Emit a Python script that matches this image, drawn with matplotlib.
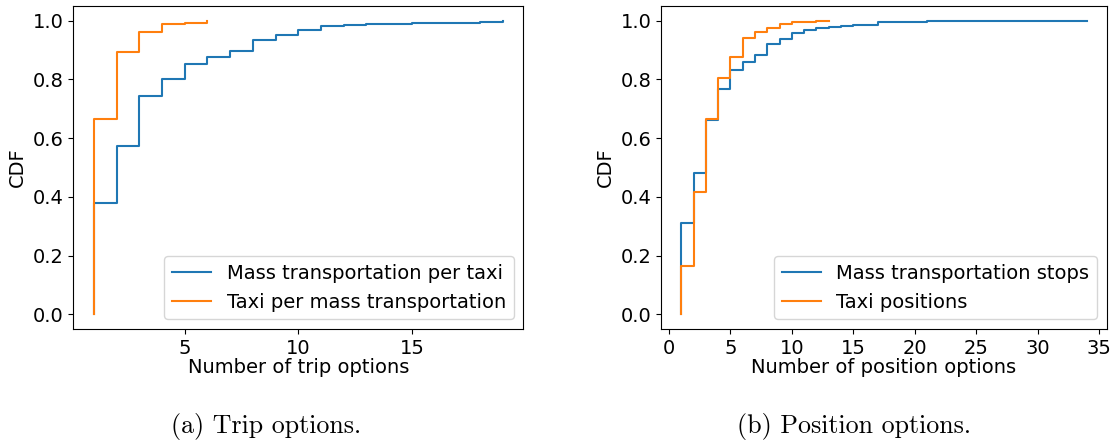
import numpy as np
import matplotlib
matplotlib.use('Agg')
import matplotlib.pyplot as plt
from matplotlib.ticker import MultipleLocator

# (a) trip options: CDF value reached at each number of options
trip_mass_x = list(range(1, 20))
trip_mass_cdf = [0.379, 0.572, 0.744, 0.803, 0.853, 0.875, 0.897, 0.934, 0.951,
                 0.968, 0.982, 0.984, 0.988, 0.990, 0.991, 0.992, 0.993, 0.996, 1.0]
trip_taxi_x = list(range(1, 7))
trip_taxi_cdf = [0.666, 0.892, 0.960, 0.989, 0.993, 1.0]

# (b) position options
pos_mass_x = list(range(1, 24)) + [25, 28, 34]
pos_mass_cdf = [0.310, 0.483, 0.661, 0.769, 0.831, 0.861, 0.884, 0.922, 0.938,
                0.958, 0.970, 0.975, 0.980, 0.982, 0.984, 0.987, 0.994, 0.995,
                0.996, 0.997, 0.998, 0.998, 0.999, 0.9995, 0.9998, 1.0]
pos_taxi_x = list(range(1, 14))
pos_taxi_cdf = [0.165, 0.418, 0.666, 0.805, 0.875, 0.940, 0.961, 0.974, 0.989,
                0.994, 0.997, 0.999, 1.0]

plt.rcParams['font.size'] = 14


def plot_cdf(ax, x, cdf, label):
    # start the curve at CDF 0 on the first value, then step up
    xs = np.r_[x[0], x]
    ys = np.r_[0.0, cdf]
    ax.step(xs, ys, where='post', label=label)


fig = plt.figure(figsize=(11.16, 4.46), dpi=100)
ax1 = fig.add_axes([0.0657, 0.2623, 0.4032, 0.7242])
ax2 = fig.add_axes([0.5923, 0.2623, 0.3996, 0.7242])

plot_cdf(ax1, trip_mass_x, trip_mass_cdf, 'Mass transportation per taxi')
plot_cdf(ax1, trip_taxi_x, trip_taxi_cdf, 'Taxi per mass transportation')
ax1.xaxis.set_major_locator(MultipleLocator(5))
ax1.set_xlabel('Number of trip options', labelpad=0)
ax1.set_ylabel('CDF')
ax1.legend(loc='lower right')

plot_cdf(ax2, pos_mass_x, pos_mass_cdf, 'Mass transportation stops')
plot_cdf(ax2, pos_taxi_x, pos_taxi_cdf, 'Taxi positions')
ax2.xaxis.set_major_locator(MultipleLocator(5))
ax2.set_xlabel('Number of position options', labelpad=0)
ax2.set_ylabel('CDF')
ax2.legend(loc='lower right')

fig.text(0.238, 0.043, '(a) Trip options.', family='cmr10', fontsize=18.7,
         ha='center', va='center')
fig.text(0.765, 0.043, '(b) Position options.', family='cmr10', fontsize=18.7,
         ha='center', va='center')

fig.savefig('out.png', dpi=100, facecolor='white')
